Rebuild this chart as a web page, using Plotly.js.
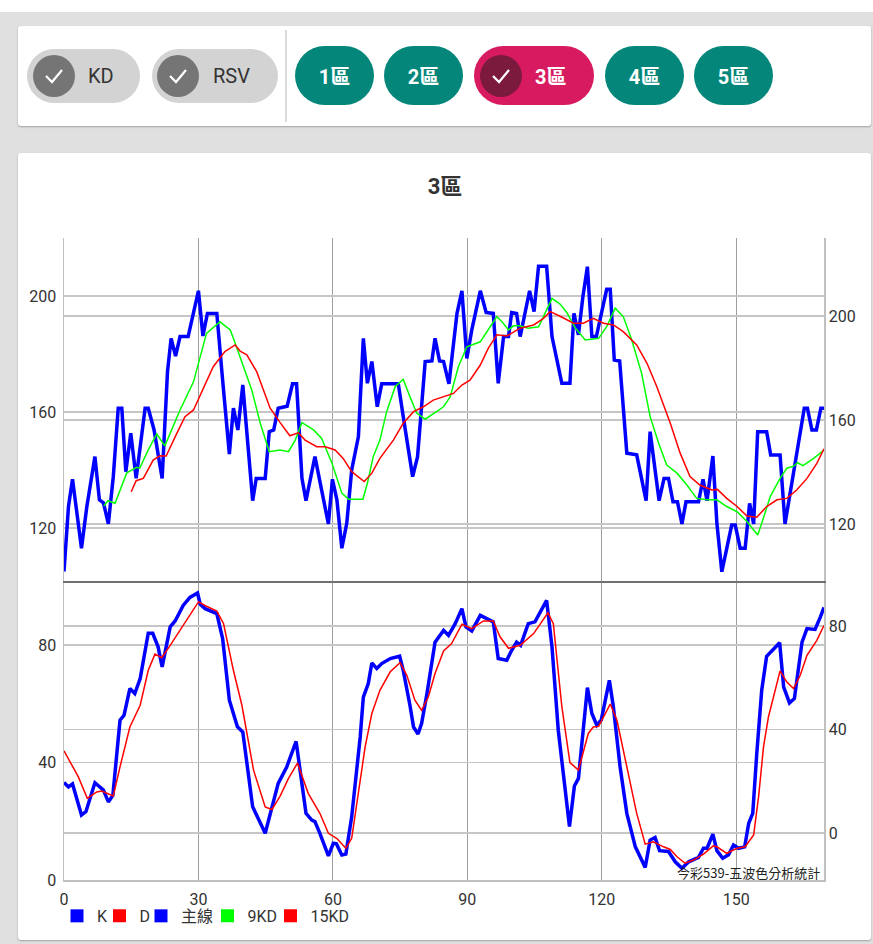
<!DOCTYPE html>
<html>
<head>
<meta charset="utf-8">
<script src="https://cdn.plot.ly/plotly-3.0.1.min.js"></script>
<style>
  html, body { margin:0; padding:0; width:873px; height:944px; overflow:hidden; background:#ffffff; font-family: Roboto, "Noto Sans CJK TC", sans-serif; }
  .abs { position:absolute; }
  #grey { left:0; top:12px; width:873px; height:932px; background:#e0e0e0; }
  .card { background:#fff; box-shadow:0 1px 2px rgba(0,0,0,0.28); border-radius:3px; }
  .pill { border-radius:30px; }
  .grey-pill { background:#d3d3d3; }
  .teal { background:#04877a; color:#fff; font-weight:700; font-size:20px; display:flex; align-items:center; justify-content:center; font-family: Roboto, "Noto Sans CJK TC", sans-serif; }
  .circ { border-radius:50%; display:flex; align-items:center; justify-content:center; }
  .lbl { font-size:20px; color:#333; line-height:20px; }
  #chart { left:0; top:0; width:873px; height:944px; }
</style>
</head>
<body>
<div id="grey" class="abs"></div>
<div class="abs card" style="left:18px; top:26px; width:853px; height:100px;"></div>
<div class="abs card" style="left:18px; top:153px; width:853px; height:787px;"></div>

<!-- header toggles -->
<div class="abs pill grey-pill" style="left:27px; top:49px; width:113px; height:54px;"></div>
<div class="abs circ" style="left:33px; top:55px; width:42px; height:42px; background:#757575;">
  <svg width="22" height="22" viewBox="0 0 22 22"><polyline points="3,11 9,17 19,5" fill="none" stroke="#fff" stroke-width="2.2"/></svg>
</div>
<div class="abs lbl" style="left:88px; top:66px;">KD</div>

<div class="abs pill grey-pill" style="left:152px; top:49px; width:126px; height:54px;"></div>
<div class="abs circ" style="left:157px; top:55px; width:42px; height:42px; background:#757575;">
  <svg width="22" height="22" viewBox="0 0 22 22"><polyline points="3,11 9,17 19,5" fill="none" stroke="#fff" stroke-width="2.2"/></svg>
</div>
<div class="abs lbl" style="left:213px; top:66px;">RSV</div>

<div class="abs" style="left:285px; top:30px; width:2px; height:92px; background:#dadada;"></div>

<div class="abs pill teal" style="left:295px; top:46px; width:79px; height:59px;">1區</div>
<div class="abs pill teal" style="left:384px; top:46px; width:79px; height:59px;">2區</div>
<div class="abs pill teal" style="left:474px; top:46px; width:120px; height:59px; background:#d81b60; justify-content:flex-start;">
  <span style="margin-left:61px;">3區</span>
</div>
<div class="abs circ" style="left:480px; top:55px; width:42px; height:42px; background:#7b1a3d;">
  <svg width="22" height="22" viewBox="0 0 22 22"><polyline points="3,11 9,17 19,5" fill="none" stroke="#fff" stroke-width="2.2"/></svg>
</div>
<div class="abs pill teal" style="left:605px; top:46px; width:79px; height:59px;">4區</div>
<div class="abs pill teal" style="left:694px; top:46px; width:79px; height:59px;">5區</div>

<div id="chart" class="abs"></div>

<script>
// ---------------- data ----------------
const CHART_TITLE = '3區';
const WATERMARK = '今彩539-五波色分析統計';
const X_TICKS = [0, 30, 60, 90, 120, 150];
const TOP_LEFT_TICKS = [120, 160, 200];
const TOP_RIGHT_TICKS = [120, 160, 200];
const BOT_LEFT_TICKS = [0, 40, 80];
const BOT_RIGHT_TICKS = [0, 40, 80];
const LEGEND_NAMES = ['K', 'D', '主線', '9KD', '15KD'];

// 主線 [index, value]
const MAIN_LINE = [[0,105],[1,127.4],[1.9,136.8],[3.9,113],[5.1,127.4],[6.9,144.6],[7.9,129.7],[8.8,128.7],[9.9,121.4],[11,137.7],[12.1,161.3],[12.9,161.3],[13.8,139.4],[14.9,152.7],[16.1,137.1],[18.1,161.3],[18.8,161.3],[20.1,153.8],[21.9,137.1],[23.1,173.9],[23.9,185.4],[24.9,179.3],[25.9,186],[27.7,186],[30,201.8],[31,186.2],[32,194],[34.1,194],[35.4,171],[36.9,145.5],[37.8,161.3],[38.8,153.8],[39.9,169.3],[42.1,129.4],[42.9,137.1],[44.9,137.1],[45.8,153.2],[46.8,153.8],[47.8,161.3],[49.8,162],[51,169.7],[51.9,169.7],[53.1,137.1],[54,129.4],[56,144.6],[59,121.4],[59.9,136.8],[60.9,129.7],[62,113],[63.1,121.6],[64.2,140],[65.7,151.5],[66.8,185.4],[67.7,169.9],[68.7,177.4],[69.9,161.8],[70.9,169.7],[74.6,169.7],[75.7,158.4],[77.8,137.7],[78.9,144.6],[80.6,177.4],[82.1,177.6],[82.8,185.4],[83.8,177.6],[84.7,177.4],[85.9,169.7],[87.7,194],[88.8,201.8],[89.9,178.5],[91,188.3],[92.9,201.8],[94.2,194.3],[95.8,194],[96.9,169.9],[98.1,186],[99.2,186],[99.9,194.3],[101,194],[101.8,186],[103.9,201.8],[104.9,194.6],[105.9,210.3],[107.7,210.3],[108.9,186],[111.1,169.9],[112.9,169.9],[113.8,194],[114.8,186.6],[115.8,199.8],[116.8,210.1],[117.8,186],[118.8,186],[121.1,202.3],[121.9,202.3],[122.8,177.9],[124,177.6],[125.6,145.8],[127.8,145.2],[129.9,129.4],[130.8,153.2],[132.8,129.4],[133.9,137.1],[134.9,137.1],[135.9,129],[136.9,129],[137.9,121.4],[138.8,129],[141.6,129],[142.6,136.8],[143.5,129.4],[144.8,144.8],[145.7,121.6],[146.8,104.9],[149,121],[149.8,121],[150.9,113],[152,113],[153,128.5],[153.9,121.4],[154.8,153.2],[156.8,153.2],[157.7,145.2],[159.8,145.2],[160.9,121.4],[163.5,144.6],[165.2,161.3],[165.9,161.3],[166.9,153.8],[167.9,153.8],[168.9,161.3],[169.6,161.3]];

// 9KD [index, value]
const KD9 = [[8.9,127.6],[9.8,129.4],[11.4,128.5],[14,139],[16.2,140.9],[16.9,140.6],[18.8,146.9],[20.7,152.4],[22.5,148.3],[25.9,160.7],[28.9,170.4],[30.4,179.1],[31.8,187.1],[34.8,191.1],[37.1,188.3],[38.2,183.7],[40.4,174.5],[41.9,167.6],[43.8,156.1],[45.8,146.3],[48.2,146.9],[50.1,146.3],[51.6,150.3],[53.1,156.3],[55.7,153.8],[57.5,150.9],[59.8,142.3],[62,132],[63.5,129.9],[66.7,129.9],[67.7,135.4],[69,144.6],[70.5,150.3],[72,160.1],[73.9,168.7],[75.7,171.3],[77.2,165.3],[78.7,159.6],[80.6,157.5],[82.4,159.3],[84.7,161.8],[86.2,165.3],[88,175.6],[89.9,182.5],[92.9,184.2],[95.1,189.4],[96.6,192.9],[97.8,191],[99.2,188.3],[100.3,189.7],[101.8,189.7],[103.6,188.9],[105.9,189.4],[107,192.9],[108.9,199.2],[110.7,197.2],[112.2,194.3],[114.1,189],[116.3,184.8],[119.3,185.4],[121.1,189.4],[123,195.8],[124.8,192.9],[126.7,184.8],[128.9,173.3],[130.8,158.4],[132.7,149.2],[134.5,141.7],[136.8,138.9],[139,134.8],[141.2,130.2],[143.5,129.7],[145.7,129.7],[147.9,127.4],[150.2,125.6],[152.4,122.2],[153.5,119.9],[154.8,117.6],[155.7,121.6],[157.6,130.8],[159.8,137.1],[161.3,140.6],[162.8,141.3],[163.7,142.5],[164.9,141.5],[167.3,144],[169.6,146.9]];

// 15KD [index, value]
const KD15 = [[15,132.5],[16.1,136.3],[17.7,137.1],[19.9,143.4],[21.4,144.9],[22.8,144.8],[25.2,152.7],[27,158.4],[28.9,160.7],[31.1,168.2],[33.3,175.6],[35.9,180.8],[38.2,183.1],[39.3,181],[40.8,179.7],[43,173.9],[46,161.3],[48.2,156.4],[50.4,151.8],[52.3,152.8],[53.8,150.3],[56.4,148],[58.3,148],[60.5,146.9],[62.3,144],[64.2,139.4],[67,136],[68.7,138.9],[70.5,144],[73.5,150.3],[75.7,156.1],[78,160.1],[80.2,161.8],[82.4,164.1],[84.7,165.3],[86.9,166.4],[88.8,169.3],[90.6,171],[92.9,176.2],[94.7,182],[96.6,186.6],[98.8,186.2],[101.8,188.9],[104.8,190],[107,192.3],[108.5,194.6],[110.7,193],[113.7,190.6],[115.9,190.6],[118.1,192.3],[120.4,190.6],[122.6,190],[124.8,187.7],[127.8,183.1],[130.1,176.8],[132.3,168.7],[135.3,156.1],[137.5,145.8],[139.7,137.7],[141.9,134.8],[144.6,133.1],[145.8,133.3],[147.9,130.2],[150.2,127.4],[152.4,124.1],[154.6,123.7],[156.8,127.4],[159.1,129.7],[161.3,130.2],[163.5,133.1],[165.8,137.1],[168,142.3],[169.6,147.3]];

// K [index, value]
const K_LINE = [[0,33.2],[1,31.7],[1.9,32.7],[3.9,22.1],[4.9,23.3],[6.9,33.1],[8.8,30.6],[9.9,26.6],[10.9,28.8],[12.5,54.4],[13.4,56.1],[14.7,65.2],[15.8,63.5],[17,68.6],[18.8,84],[19.8,84],[21,79.4],[21.9,72.6],[23.7,86.2],[24.8,88.2],[26.6,93.5],[28.1,96.2],[29.8,97.7],[30.4,93.9],[31.5,92.4],[34.1,90.7],[35.4,82.2],[36.9,61.2],[38.7,52.2],[39.9,50.4],[42.1,24.9],[44.9,15.9],[47.8,32.9],[49.7,38.5],[51.8,47.2],[54,22.7],[55.3,20.4],[56,19.9],[57.1,15.9],[59,8.2],[60.1,12.5],[60.8,12.3],[62,8.5],[62.9,8.8],[64.2,21.5],[66.1,48.7],[66.8,62.3],[67.9,66.9],[68.7,73.9],[69.8,72],[70.9,73.7],[72.8,75.4],[74.9,76.2],[75.7,71.4],[77.2,59.5],[78,52.1],[79,49.7],[79.8,53.3],[81,63.5],[82.8,81],[84.7,85],[85.8,83.3],[87.3,87.3],[88.8,92.4],[89.7,86.2],[91,84.8],[92.9,90.1],[94.4,89],[95.8,87.9],[96.9,75.4],[98.8,74.8],[99.9,78.2],[101,81],[101.9,79.9],[103.6,87.3],[105.1,87.9],[106.3,91.3],[107.7,95.2],[108.9,79.4],[110.3,51],[112.8,18.2],[113.9,32],[114.8,34.6],[116.8,65.5],[117.8,56.7],[118.9,52.7],[119.9,54.5],[121.7,68],[122.6,58.9],[124.1,38.5],[125.6,22.7],[127.5,11.3],[129.7,4.3],[130.8,13.6],[131.9,14.5],[132.9,10],[134.9,9.7],[136.4,6.2],[137.9,4],[139.4,6.2],[141.6,7.7],[142.7,10.8],[143.5,10.8],[144.8,15.6],[145.7,10],[147,7.4],[148.3,8.6],[149.4,11.9],[150.5,10.8],[151.9,11.3],[152.8,19.3],[153.7,22.7],[154.6,43.1],[155.7,64.6],[156.8,76.2],[158,78.2],[159.7,80.8],[160.6,65.7],[161.9,60.3],[163,61.8],[164.7,81],[165.8,85.6],[167.6,85.3],[168.8,89.6],[169.6,92.8]];

// D [index, value]
const D_LINE = [[0,44],[1.7,39.1],[3.2,35.1],[5.2,27.8],[7.3,30],[8.4,30.3],[10.3,28.9],[11,28.6],[12.5,38.5],[14.7,52.1],[17,59.5],[18.8,71.4],[20.3,76.9],[21.8,75.7],[23.7,79.9],[26.3,86.2],[28.5,91.3],[30,94.7],[31.8,93.2],[34.1,91.6],[35.6,87.3],[37.8,71.4],[39.7,59.5],[42.3,37.4],[44.9,24.9],[46.4,24],[48.2,28.5],[50.1,34.6],[52.1,39.8],[54.5,29.5],[57.1,22.7],[59,15.9],[60.9,14.1],[62.9,10.8],[64.2,14.2],[65.7,29.5],[67.2,45.3],[68.7,56.7],[70.5,64.6],[72.8,70.9],[75,74],[76.5,69.7],[78.3,61.2],[79.8,57.8],[81.3,62.3],[82.8,70.3],[84.7,78],[86.5,80.5],[88.8,87.1],[91,85.6],[93.6,88.2],[95.8,88.2],[97.3,82.8],[99.2,78.9],[101.8,79.9],[104.8,83.9],[108,91],[109.2,87.3],[111.1,59],[112.9,40],[114.8,37.4],[117,49.9],[118.1,52.1],[119.3,52.3],[121.9,59.9],[123.4,54.4],[125.6,38.5],[127.8,22.7],[129.7,12.2],[131.5,13],[133.8,11.3],[135.3,10.4],[136.8,7.9],[138.6,5.7],[140.5,6.8],[142.7,8.8],[144.9,11.6],[145.7,11.3],[147.9,9.1],[150.2,10.8],[152,11.3],[153.9,15.3],[155,28.3],[156.1,45.3],[157.2,55.5],[159.8,71.2],[161.3,67.4],[162.8,65.2],[164.3,69.7],[165.8,76.5],[168,81.6],[169.6,86.7]];

// ---------------- drawing ----------------
const BLUE = '#0000ff', RED = '#ff0000', GREEN = '#00ff00';
const FONT = 'Roboto, "Noto Sans CJK TC", sans-serif';
const xs = a => a.map(p => p[0]);
const ys = a => a.map(p => p[1]);

function lineTrace(series, name, color, width, xa, ya) {
  return { type:'scatter', mode:'lines', name:name, x:xs(series), y:ys(series),
           xaxis:xa, yaxis:ya, line:{color:color, width:width}, showlegend:false, hoverinfo:'skip' };
}
function legendTrace(name, color, legendId) {
  return { type:'scatter', mode:'markers', name:name, x:[null], y:[null], xaxis:'x', yaxis:'y2',
           marker:{symbol:'square', size:13, color:color}, showlegend:true, legend:legendId, hoverinfo:'skip' };
}
// empty traces so the right-hand (secondary) scales exist and are drawn
function axisHolder(xa, ya) {
  return { type:'scatter', mode:'lines', x:[null], y:[null], xaxis:xa, yaxis:ya, showlegend:false, hoverinfo:'skip' };
}

const traces = [
  axisHolder('x2', 'y3'),
  axisHolder('x', 'y4'),
  lineTrace(MAIN_LINE, '主線', BLUE, 3.5, 'x2', 'y'),
  lineTrace(KD9, '9KD', GREEN, 1.5, 'x2', 'y'),
  lineTrace(KD15, '15KD', RED, 1.5, 'x2', 'y'),
  lineTrace(K_LINE, 'K', BLUE, 3.5, 'x', 'y2'),
  lineTrace(D_LINE, 'D', RED, 1.5, 'x', 'y2'),
  legendTrace(LEGEND_NAMES[0], BLUE, 'legend'),
  legendTrace(LEGEND_NAMES[1], RED, 'legend2'),
  legendTrace(LEGEND_NAMES[2], BLUE, 'legend3'),
  legendTrace(LEGEND_NAMES[3], GREEN, 'legend4'),
  legendTrace(LEGEND_NAMES[4], RED, 'legend5')
];

const HGRID = '#c6c6c6', VGRID = '#9e9e9e', EDGE = '#c0c0c0';
const tickFont = {family:FONT, size:16, color:'#333'};
const split = 0.4657;

function yAxis(extra) {
  return Object.assign({ showgrid:true, gridcolor:HGRID, gridwidth:1.5, zeroline:false,
    showline:true, linecolor:EDGE, linewidth:1.5, ticks:'', tickfont:tickFont, fixedrange:true }, extra);
}
function legendBox(px) {
  return { orientation:'h', x:(px - 64) / 760, xanchor:'left', y:-0.0295, yanchor:'top',
           font:{family:FONT, size:16, color:'#333'}, bgcolor:'rgba(0,0,0,0)', itemwidth:30 };
}

const layout = {
  width:873, height:944,
  paper_bgcolor:'rgba(0,0,0,0)', plot_bgcolor:'rgba(0,0,0,0)',
  margin:{l:64, r:49, t:238, b:64, autoexpand:false},
  font:{family:FONT, color:'#333'},
  title:{ text:CHART_TITLE, font:{family:FONT, size:22, color:'#333', weight:'bold'},
          xref:'container', x:445/873, xanchor:'center', yref:'container', y:1-186/944, yanchor:'middle' },
  showlegend:true,
  legend: legendBox(57),
  legend2: legendBox(99.5),
  legend3: legendBox(141),
  legend4: legendBox(207.5),
  legend5: legendBox(270.5),
  xaxis:{ domain:[0,1], anchor:'y2', range:[0,169.6], tickmode:'array', tickvals:X_TICKS, ticktext:X_TICKS.map(String),
          showgrid:true, gridcolor:VGRID, gridwidth:1, zeroline:false, showline:true, linecolor:EDGE, linewidth:1.5,
          ticks:'', tickfont:tickFont, ticklabelstandoff:4, fixedrange:true },
  xaxis2:{ domain:[0,1], anchor:'y', matches:'x', range:[0,169.6], tickmode:'array', tickvals:X_TICKS, showticklabels:false,
           showgrid:true, gridcolor:VGRID, gridwidth:1, zeroline:false, showline:true, linecolor:'#707070', linewidth:2,
           ticks:'', fixedrange:true },
  yaxis: yAxis({ domain:[split,1], anchor:'x2', range:[101.7,220], tickmode:'array', tickvals:TOP_LEFT_TICKS, ticklabelstandoff:3 }),
  yaxis3: yAxis({ domain:[split,1], anchor:'x2', overlaying:'y', side:'right', range:[98.1,230], tickmode:'array', tickvals:TOP_RIGHT_TICKS }),
  yaxis2: yAxis({ domain:[0,split], anchor:'x', range:[0,101.8], tickmode:'array', tickvals:BOT_LEFT_TICKS, ticklabelstandoff:3 }),
  yaxis4: yAxis({ domain:[0,split], anchor:'x', overlaying:'y2', side:'right', range:[-18.2,97.4], tickmode:'array', tickvals:BOT_RIGHT_TICKS }),
  annotations:[{ text:WATERMARK, xref:'paper', yref:'paper', x:0.997, xanchor:'right', y:0.011, yanchor:'middle',
                 showarrow:false, font:{family:'"Noto Sans CJK TC", sans-serif', size:13, color:'#222'} }]
};

Plotly.newPlot('chart', traces, layout, {displayModeBar:false, staticPlot:true});
</script>
</body>
</html>
